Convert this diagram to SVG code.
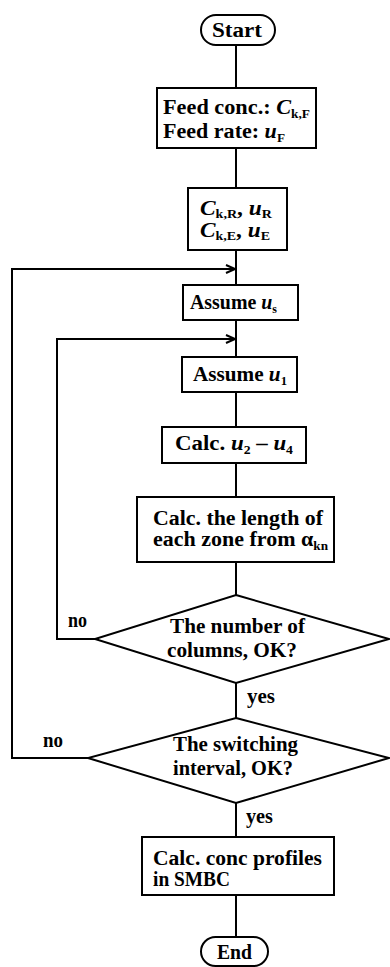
<svg xmlns="http://www.w3.org/2000/svg" width="390" height="967" viewBox="0 0 390 967">
<style>
.s{fill:#fff;stroke:#000;stroke-width:2}
.c{fill:none;stroke:#000;stroke-width:2}
text{font-family:"Liberation Serif","Times New Roman",serif;font-weight:bold;font-size:20px;fill:#000}
.i{font-style:italic}
.sub{font-size:12px}
</style>
<defs>
<marker id="ah" markerWidth="12" markerHeight="10" refX="10" refY="5" orient="auto" markerUnits="userSpaceOnUse">
<path d="M1,1 L10,5 L1,9" fill="none" stroke="#000" stroke-width="2"/>
</marker>
</defs>
<g id="connectors">
<path class="c" d="M236,45 V88"/>
<path class="c" d="M236,148 V188"/>
<path class="c" d="M236,250 V285"/>
<path class="c" d="M236,320 V357"/>
<path class="c" d="M236,392 V427"/>
<path class="c" d="M236,463 V497"/>
<path class="c" d="M236,562 V595"/>
<path class="c" d="M236,683 V718"/>
<path class="c" d="M236,803 V837"/>
<path class="c" d="M236,895 V937"/>
<path class="c" d="M95,639 H57 V339 H235" marker-end="url(#ah)"/>
<path class="c" d="M88,758 H12 V269 H235" marker-end="url(#ah)"/>
<text x="68" y="627" textLength="19" lengthAdjust="spacingAndGlyphs">no</text>
<text x="43" y="747" textLength="20" lengthAdjust="spacingAndGlyphs">no</text>
<text x="247" y="703" textLength="28" lengthAdjust="spacingAndGlyphs">yes</text>
<text x="246" y="823" textLength="27" lengthAdjust="spacingAndGlyphs">yes</text>
</g>
<g id="start">
<rect class="s" x="201" y="15" width="74" height="30" rx="15"/>
<text x="212" y="37" textLength="50" lengthAdjust="spacingAndGlyphs">Start</text>
</g>
<g id="feed">
<rect class="s" x="157" y="88" width="159" height="60"/>
<text x="163" y="114" textLength="147" lengthAdjust="spacingAndGlyphs">Feed conc.: <tspan class="i">C</tspan><tspan class="sub" dy="4">k,F</tspan></text>
<text x="163" y="138" textLength="122" lengthAdjust="spacingAndGlyphs">Feed rate: <tspan class="i">u</tspan><tspan class="sub" dy="4">F</tspan></text>
</g>
<g id="recycle">
<rect class="s" x="188" y="188" width="99" height="62"/>
<text x="200" y="215" textLength="72" lengthAdjust="spacingAndGlyphs"><tspan class="i">C</tspan><tspan class="sub" dy="3">k,R</tspan><tspan dy="-3">, </tspan><tspan class="i">u</tspan><tspan class="sub" dy="3">R</tspan></text>
<text x="200" y="237" textLength="70" lengthAdjust="spacingAndGlyphs"><tspan class="i">C</tspan><tspan class="sub" dy="3">k,E</tspan><tspan dy="-3">, </tspan><tspan class="i">u</tspan><tspan class="sub" dy="3">E</tspan></text>
</g>
<g id="assume-us">
<rect class="s" x="183" y="285" width="115" height="35"/>
<text x="190" y="309" textLength="87" lengthAdjust="spacingAndGlyphs">Assume <tspan class="i">u</tspan><tspan class="sub" dy="4">s</tspan></text>
</g>
<g id="assume-u1">
<rect class="s" x="182" y="357" width="115" height="35"/>
<text x="193" y="381" textLength="94" lengthAdjust="spacingAndGlyphs">Assume <tspan class="i">u</tspan><tspan class="sub" dy="4">1</tspan></text>
</g>
<g id="calc-u">
<rect class="s" x="162" y="427" width="144" height="36"/>
<text x="175" y="450" textLength="118" lengthAdjust="spacingAndGlyphs">Calc. <tspan class="i">u</tspan><tspan class="sub" dy="4">2</tspan><tspan dy="-4"> – </tspan><tspan class="i">u</tspan><tspan class="sub" dy="4">4</tspan></text>
</g>
<g id="calc-length">
<rect class="s" x="137" y="497" width="197" height="65"/>
<text x="153" y="525" textLength="170" lengthAdjust="spacingAndGlyphs">Calc. the length of</text>
<text x="153" y="546" textLength="175" lengthAdjust="spacingAndGlyphs">each zone from α<tspan class="sub" dy="4">kn</tspan></text>
</g>
<g id="check-columns">
<polygon class="s" points="236,595 389,639 236,683 95,639"/>
<text x="170" y="633" textLength="135" lengthAdjust="spacingAndGlyphs">The number of</text>
<text x="167" y="657" textLength="130" lengthAdjust="spacingAndGlyphs">columns, OK?</text>
</g>
<g id="check-interval">
<polygon class="s" points="236,718 389,758 236,803 88,758"/>
<text x="173" y="751" textLength="125" lengthAdjust="spacingAndGlyphs">The switching</text>
<text x="173" y="775" textLength="120" lengthAdjust="spacingAndGlyphs">interval, OK?</text>
</g>
<g id="calc-profiles">
<rect class="s" x="142" y="837" width="192" height="58"/>
<text x="153" y="865" textLength="169" lengthAdjust="spacingAndGlyphs">Calc. conc profiles</text>
<text x="153" y="886" textLength="77" lengthAdjust="spacingAndGlyphs">in SMBC</text>
</g>
<g id="end">
<rect class="s" x="201" y="937" width="67" height="29" rx="14.5"/>
<text x="217" y="959" textLength="35" lengthAdjust="spacingAndGlyphs">End</text>
</g>
</svg>
